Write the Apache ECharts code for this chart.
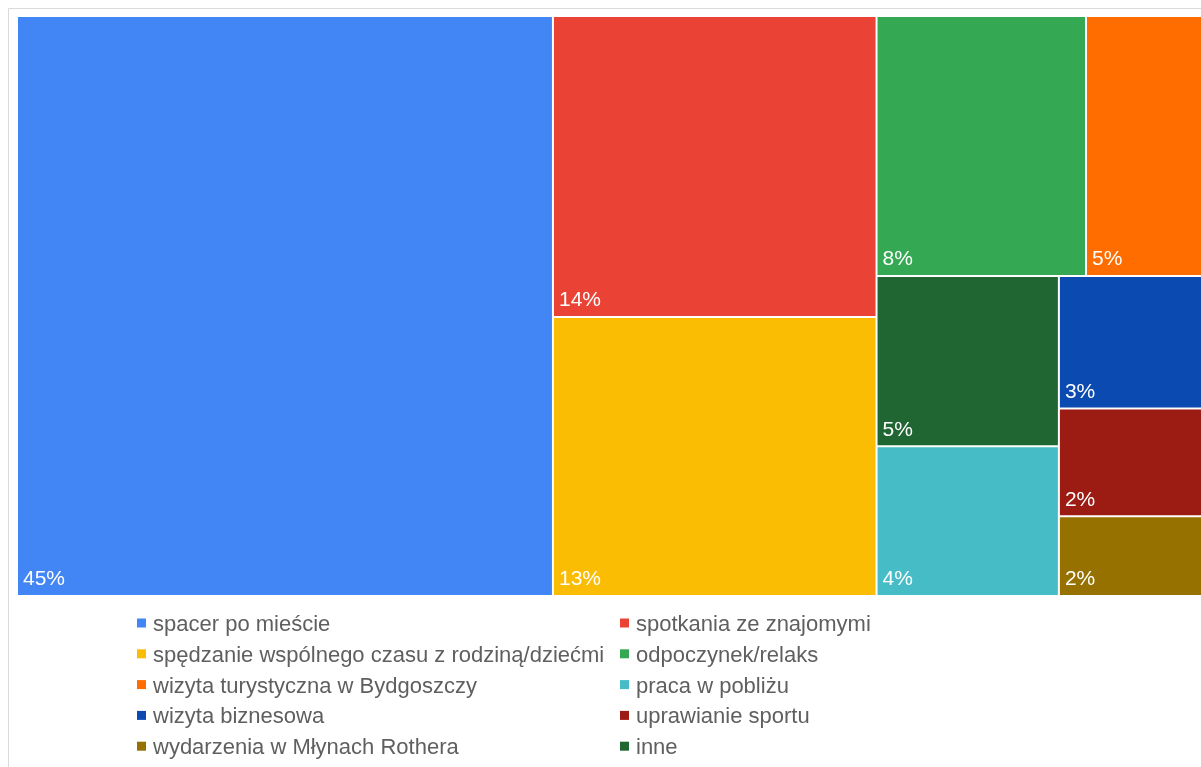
<!DOCTYPE html>
<html>
<head>
<meta charset="utf-8">
<title>Cel wizyty</title>
<script src="https://cdn.jsdelivr.net/npm/echarts@6/dist/echarts.min.js"></script>
<style>
  html, body { margin: 0; padding: 0; background: #ffffff; }
  #chart { width: 1201px; height: 767px; }
</style>
</head>
<body>
<div id="chart"></div>
<script>
// Categories in legend order (row by row, two columns)
const categories = [
  'spacer po mieście',
  'spotkania ze znajomymi',
  'spędzanie wspólnego czasu z rodziną/dziećmi',
  'odpoczynek/relaks',
  'wizyta turystyczna w Bydgoszczy',
  'praca w pobliżu',
  'wizyta biznesowa',
  'uprawianie sportu',
  'wydarzenia w Młynach Rothera',
  'inne'
];

// Share of answers, in percent
const shares = [45.0, 14.1, 13.07, 7.88, 4.59, 3.95, 2.86, 2.33, 1.72, 4.5];

const colors = [
  '#4285F4', '#EA4335', '#FBBC04', '#34A853', '#FF6D01',
  '#46BDC6', '#0B4AB1', '#9C1B12', '#977100', '#1F6633'
];

const FONT = '"Liberation Sans", Arial, Helvetica, sans-serif';
const total = Math.round(shares.reduce((a, b) => a + b, 0) * 100) / 100;

const chart = echarts.init(document.getElementById('chart'), null, { renderer: 'canvas' });

// Legend drawn as two columns below the treemap
const legendCols = [137, 620];
const legendTop = 623;
const legendStep = 30.8;
const legendGraphics = [];
categories.forEach((name, i) => {
  const col = i % 2;
  const row = Math.floor(i / 2);
  const x = legendCols[col];
  const y = legendTop + row * legendStep;
  legendGraphics.push({
    type: 'rect',
    silent: true,
    shape: { x: x, y: y - 4.5, width: 9, height: 9 },
    style: { fill: colors[i] }
  });
  legendGraphics.push({
    type: 'text',
    silent: true,
    x: x + 16,
    y: y + 2,
    style: {
      text: name,
      fontSize: 22,
      fontFamily: FONT,
      fill: '#5f5f5f',
      verticalAlign: 'middle',
      align: 'left'
    }
  });
});

const option = {
  backgroundColor: '#ffffff',
  animation: false,
  graphic: [
    {
      type: 'rect',
      silent: true,
      z: -10,
      shape: { x: 8.5, y: 8.5, width: 1400, height: 1000 },
      style: { fill: 'none', stroke: '#dadada', lineWidth: 1 }
    }
  ].concat(legendGraphics),
  series: [
    {
      type: 'treemap',
      left: 18,
      top: 17,
      width: 1189,
      height: 578,
      roam: false,
      nodeClick: false,
      sort: 'desc',
      squareRatio: 1.3,
      breadcrumb: { show: false },
      itemStyle: { borderWidth: 0, gapWidth: 2, borderColor: '#ffffff' },
      levels: [
        { itemStyle: { borderWidth: 0, gapWidth: 2 } }
      ],
      label: {
        show: true,
        position: 'insideBottomLeft',
        distance: 0,
        color: '#ffffff',
        fontSize: 21,
        fontFamily: FONT,
        formatter: p => Math.round(p.value * 100 / total) + '%'
      },
      emphasis: { disabled: true },
      data: categories.map((name, i) => ({
        name: name,
        value: shares[i],
        itemStyle: { color: colors[i] }
      }))
    }
  ]
};

chart.setOption(option);
</script>
</body>
</html>
